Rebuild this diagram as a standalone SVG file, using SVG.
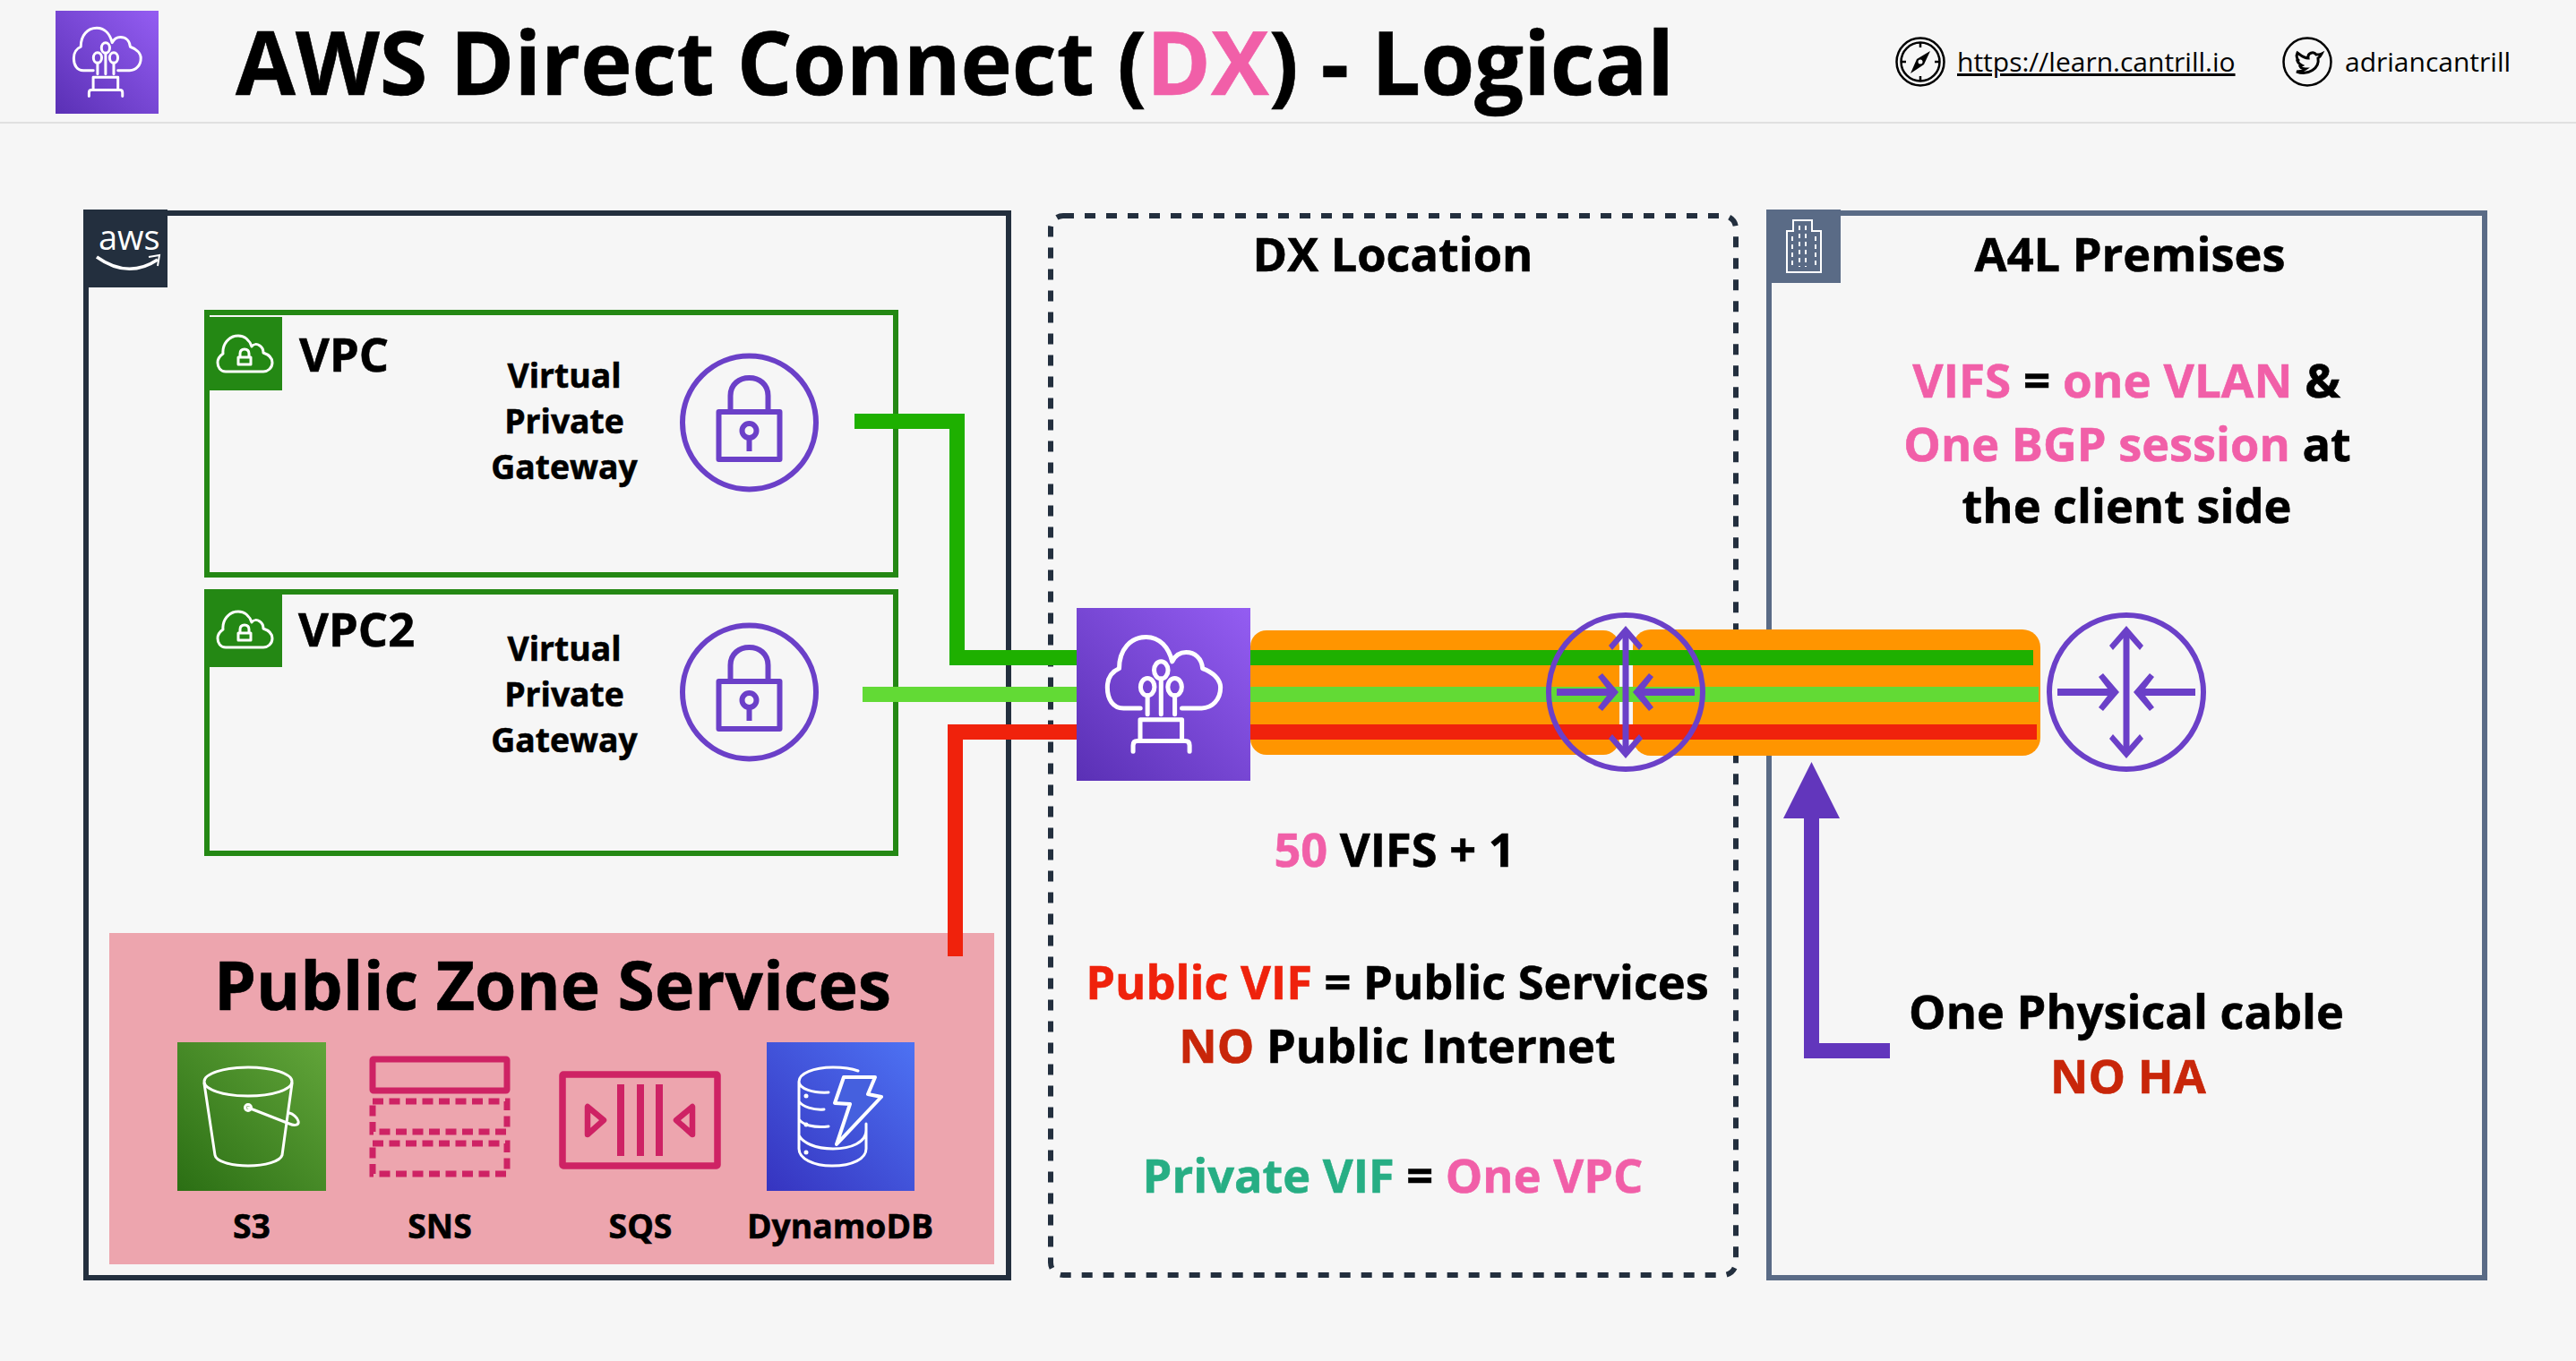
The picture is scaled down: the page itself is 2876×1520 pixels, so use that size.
<svg xmlns="http://www.w3.org/2000/svg" width="2876" height="1520" viewBox="0 0 2876 1520">
<style>
text{font-family:"Open Sans","Noto Sans","DejaVu Sans",sans-serif;font-weight:700;fill:#000;stroke:#000;stroke-width:.6}
.m{text-anchor:middle}
.h1{font-size:99px}
.h2{font-size:52.3px}
.t{font-size:37.3px}
.r{font-size:30px;font-weight:400;stroke:none}
tspan.pk{fill:#F15FA8;stroke:#F15FA8}tspan.rd{fill:#EF220C;stroke:#EF220C}.dr{fill:#C8260A;stroke:#C8260A}tspan.gn{fill:#27AE84;stroke:#27AE84}
.w{fill:none;stroke:#fff;stroke-width:2.6;stroke-linecap:round;stroke-linejoin:round}
.wl{fill:none;stroke:#fff;stroke-width:3;stroke-linejoin:round;stroke-linecap:round}
.pu{fill:none;stroke:#6B40C8;stroke-width:6}
.pf{fill:#6B40C8}
.k{fill:none;stroke:#000;stroke-width:2.5}
.sv{fill:none;stroke:#CE2264}
.c{fill:none;stroke-width:17}
</style>
<defs>
<linearGradient id="gP" x1="0" y1="1" x2="1" y2="0"><stop offset="0" stop-color="#5A30B5"/><stop offset="1" stop-color="#945DF2"/></linearGradient>
<linearGradient id="gG" x1="0" y1="1" x2="1" y2="0"><stop offset="0" stop-color="#2B6F14"/><stop offset="1" stop-color="#62A53A"/></linearGradient>
<linearGradient id="gB" x1="0" y1="1" x2="1" y2="0"><stop offset="0" stop-color="#3634C0"/><stop offset="1" stop-color="#4D72F3"/></linearGradient>
<g id="dxicon">
<rect width="100" height="100" fill="url(#gP)"/>
<path class="w" d="M36.7 58H27C21 58 17.7 53 17.7 46C17.7 41 20 37 24.5 35C24.5 24 31 16.8 40 16.8C48 16.8 53 23 55 31C57 27 60 25.7 63 25.7C68 25.7 72 29 72.5 35C78 37 82.8 41 82.8 46C82.8 53 78 58 72 58H60.6"/>
<path class="w" d="M48.6 41V61.5M40.8 50.7V61.5M56.5 50.7V61.5M36.6 77V64.6H60.6V77M32.5 83V79.5Q32.5 77 35 77H62.5Q65 77 65 79.5V83"/>
<ellipse class="w" cx="48.6" cy="36" rx="4" ry="5"/><ellipse class="w" cx="40.8" cy="45.7" rx="4" ry="5"/><ellipse class="w" cx="56.5" cy="45.7" rx="4" ry="5"/>
</g>
<g id="lock">
<circle class="pu" r="74.5"/>
<path class="pu" d="M-21 -15V-30C-21 -43 -11 -50 0 -50C11 -50 21 -43 21 -30V-15"/>
<rect class="pu" x="-34" y="-12" width="68" height="53" stroke-linejoin="round"/>
<circle class="pu" cy="9" r="8" stroke-width="5"/>
<path class="pu" d="M0 17V32" stroke-width="6"/>
</g>
<g id="router">
<circle class="pu" r="86"/>
<path class="pf" d="M-3.5 -66H3.5V66H-3.5ZM-77 -4H-14V4H-77ZM14 -4H77V4H14Z"/>
<path class="pf" d="M0 -74L19 -52L15 -47L0 -64L-15 -47L-19 -52ZM0 74L19 52L15 47L0 64L-15 47L-19 52ZM-8 0L-26 -21L-31 -17L-18 0L-31 17L-26 21ZM8 0L26 -21L31 -17L18 0L31 17L26 21Z"/>
</g>
<g id="vpci">
<path class="wl" stroke-width="2.2" d="M-22 20C-28 20 -31 15 -31 10C-31 5 -28 2 -25 0C-26 -10 -19 -20 -8 -20C0 -20 5 -14 7 -8C9 -11 13 -11 16 -9C19 -7 20 -4 20 -1C26 1 30 5 30 10C30 16 25 20 20 20Z"/>
<path class="wl" stroke-width="2" d="M-6 4V0C-6 -4 -4 -5 -1 -5C2 -5 4 -4 4 0V4M-8 4H6V12H-8Z"/>
</g>
</defs>
<rect width="2876" height="1520" fill="#F6F6F6"/>

<g id="header">
<use href="#dxicon" transform="translate(62 12) scale(1.15)"/>
<text class="h1" transform="translate(263 106) scale(.981 1)">AWS Direct Connect (<tspan class="pk">DX</tspan>) - Logical</text>
<rect x="0" y="136" width="2876" height="2" fill="#E0E0E0"/>
<g id="link-site">
<circle class="k" cx="2144" cy="69" r="26.5"/><circle class="k" cx="2144" cy="69" r="21.5"/>
<path d="M2155 57L2148 72L2133 82L2140 66Z" fill="#000"/><circle cx="2144" cy="69" r="2.5" fill="#F6F6F6"/>
<path class="k" d="M2144 48V53M2144 85V90M2123 69H2128M2160 69H2165"/>
<text class="r" x="2185" y="80" text-decoration="underline">https://learn.cantrill.io</text>
</g>
<g id="link-twitter">
<circle class="k" cx="2576" cy="69" r="26.5"/>
<path d="M2592 60C2590 61 2588 61 2586 61C2583 57 2576 59 2577 65C2572 65 2569 62 2565 59C2563 63 2565 67 2567 68L2565 68C2566 71 2568 72 2570 73L2568 74C2569 76 2571 77 2574 77C2571 79 2568 80 2564 80C2577 85 2590 76 2588 65C2590 64 2591 62 2592 60Z" fill="none" stroke="#000" stroke-width="3"/>
<text class="r" x="2618" y="80">adriancantrill</text>
</g>
</g>

<g id="aws">
<path d="M96 238H1126V1427H96Z" fill="none" stroke="#232F3E" stroke-width="6"/>
<rect x="93" y="234" width="94" height="87" fill="#232F3E"/>
<text x="110" y="279" style="font-weight:400;fill:#fff;stroke:none;font-size:38px">aws</text>
<path d="M108 287Q143 312 176 290" fill="none" stroke="#fff" stroke-width="3.5"/><path d="M166 287L178 285L176 297" fill="none" stroke="#fff" stroke-width="2"/>
</g>
<g id="dx-location">
<rect x="1173" y="241" width="765" height="1183" rx="14" fill="none" stroke="#232F3E" stroke-width="6" stroke-dasharray="12 12"/>
<text class="h2 m" x="1555" y="303">DX Location</text>
<text class="h2 m" x="1557" y="968"><tspan class="pk">50</tspan> VIFS + 1</text>
<text class="h2 m" x="1560" y="1116"><tspan class="rd">Public VIF</tspan> = Public Services</text>
<text class="h2 m" x="1560" y="1187"><tspan class="dr">NO</tspan> Public Internet</text>
<text class="h2 m" x="1555" y="1332"><tspan class="gn">Private VIF</tspan> = <tspan class="pk">One VPC</tspan></text>
</g>
<g id="a4l">
<rect x="1975" y="238" width="799" height="1189" fill="none" stroke="#5A6B86" stroke-width="6"/>
<rect x="1972" y="234" width="83" height="82" fill="#5A6B86"/>
<path d="M2002 258V246H2023V258H2033V304H1995V258Z" fill="none" stroke="#fff" stroke-width="2"/>
<path d="M2009 252V298M2016 252V298M2001 264V298M2027 264V298" fill="none" stroke="#fff" stroke-width="2" stroke-dasharray="5 4"/>
<text class="h2 m" x="2378" y="303">A4L Premises</text>
<text class="h2 m" transform="translate(2374 444) scale(1.012 1)"><tspan class="pk">VIFS</tspan> = <tspan class="pk">one VLAN</tspan> &amp;</text>
<text class="h2 m" x="2375" y="515"><tspan class="pk">One BGP session</tspan> at</text>
<text class="h2 m" x="2374.5" y="584">the client side</text>
<text class="h2 m" x="2374" y="1149">One Physical cable</text>
<text class="h2 m dr" x="2376" y="1221">NO HA</text>
</g>
<g id="vpc1">
<rect x="231" y="349" width="769" height="293" fill="none" stroke="#248814" stroke-width="6"/>
<rect x="228" y="354" width="87" height="82" fill="#248814"/>
<use href="#vpci" transform="translate(274 395)"/>
<text class="h2" x="334" y="415">VPC</text>
<text class="t m" x="630" y="433">Virtual</text><text class="t m" x="630" y="484">Private</text><text class="t m" x="630" y="535">Gateway</text>
<use href="#lock" transform="translate(836.5 472)"/>
</g>
<g id="vpc2">
<rect x="231" y="661" width="769" height="292" fill="none" stroke="#248814" stroke-width="6"/>
<rect x="228" y="658" width="87" height="87" fill="#248814"/>
<use href="#vpci" transform="translate(274 703)"/>
<text class="h2" x="333" y="722">VPC2</text>
<text class="t m" x="630" y="738">Virtual</text><text class="t m" x="630" y="789">Private</text><text class="t m" x="630" y="840">Gateway</text>
<use href="#lock" transform="translate(836.5 773)"/>
</g>
<g id="public-zone">
<rect x="122" y="1042" width="988" height="370" fill="#EDA5AE"/>
<text class="m" x="617" y="1128" style="font-size:75px">Public Zone Services</text>
<g id="s3">
<rect x="198" y="1164" width="166" height="166" fill="url(#gG)"/>
<ellipse class="wl" cx="277" cy="1208" rx="49" ry="16" stroke-width="4"/>
<path class="wl" stroke-width="4" d="M228 1210L240 1290C241 1297 258 1302 277 1302C296 1302 313 1297 315 1290L326 1210M277 1237L323 1255C330 1258 334 1256 333 1252C332 1248 327 1244 323 1243"/>
<circle class="wl" cx="277" cy="1237" r="3.5" stroke-width="3"/>
<text class="t m" x="281" y="1383">S3</text>
</g>
<g id="sns">
<rect class="sv" x="416" y="1183" width="150" height="35" stroke-width="7" rx="1"/>
<rect class="sv" x="416" y="1230" width="150" height="34" stroke-width="7" stroke-dasharray="12 6.5"/>
<rect class="sv" x="416" y="1277" width="150" height="34" stroke-width="7" stroke-dasharray="12 6.5"/>
<text class="t m" x="491" y="1383">SNS</text>
</g>
<g id="sqs">
<rect class="sv" x="628" y="1200" width="173" height="102" stroke-width="7.5" rx="1"/>
<path d="M693 1211V1291M715 1211V1291M736 1211V1291" fill="none" stroke="#CE2264" stroke-width="8"/>
<path class="sv" stroke-width="6.5" stroke-linejoin="round" d="M656 1236V1267L674 1251ZM773 1236V1267L755 1251Z"/>
<text class="t m" x="715" y="1383">SQS</text>
</g>
<g id="dynamodb">
<rect x="856" y="1164" width="165" height="166" fill="url(#gB)"/>
<path class="wl" stroke-width="4" d="M958 1196C950 1193 940 1192 930 1192C908 1192 892 1199 892 1208V1283C892 1294 908 1302 929 1302C952 1302 967 1294 967 1283V1255M892 1208C892 1216 908 1221 925 1220M892 1230C896 1236 908 1240 920 1239M892 1250C896 1256 908 1260 925 1258M892 1268C896 1276 910 1283 930 1283C950 1283 967 1276 967 1262"/>
<path d="M942 1203H977L969 1222L984 1225L934 1278L949 1233L932 1232Z" fill="#4560DE" stroke="#fff" stroke-width="4" stroke-linejoin="round"/>
<circle cx="900" cy="1224" r="2.5" fill="#fff"/><circle cx="900" cy="1256" r="2.5" fill="#fff"/><circle cx="900" cy="1287" r="2.5" fill="#fff"/>
<text class="t m" x="938" y="1383">DynamoDB</text>
</g>
</g>

<g id="orange-bundle">
<rect x="1396" y="704" width="412" height="139" rx="18" fill="#FF9500"/>
<rect x="1823" y="703" width="455" height="141" rx="20" fill="#FF9500"/>
</g>
<g id="connectors">
<path class="c" stroke="#1EB000" d="M954 470.5H1068.5V734.5H1202"/>
<path class="c" stroke="#62DA35" d="M963 775.5H1202"/>
<path class="c" stroke="#F0220C" d="M1066.5 1068V817.5H1202"/>
<path class="c" stroke="#1EB000" d="M1396 734.5H2270"/>
<path class="c" stroke="#62DA35" d="M1396 775.5H2276"/>
<path class="c" stroke="#F0220C" d="M1396 817.5H2274"/>
<path d="M2022.5 851L2054 914H2031V1165H2110V1182H2014V914H1991Z" fill="#6236BC"/>
</g>
<g id="dx-icon"><use href="#dxicon" transform="translate(1202 679) scale(1.94 1.93)"/></g>
<g id="router-dx"><use href="#router" transform="translate(1815 773)"/></g>
<g id="router-client"><use href="#router" transform="translate(2374 773)"/></g>
</svg>
